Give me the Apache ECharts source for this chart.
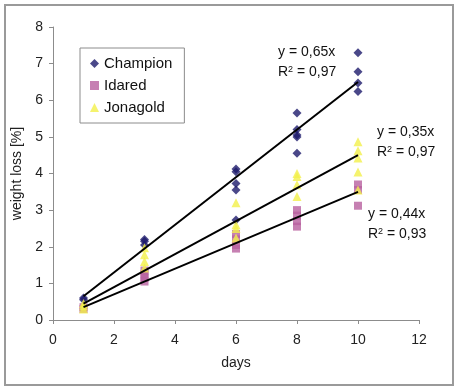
<!DOCTYPE html>
<html><head><meta charset="utf-8">
<script src="https://cdn.jsdelivr.net/npm/echarts@6/dist/echarts.min.js"></script>
<style>html,body{margin:0;padding:0;background:#fff}#c{width:460px;height:392px}</style>
</head><body><div id="c"></div>
<script>
const seriesNames = ['Champion', 'Idared', 'Jonagold'];
const championData = [[1,0.6],[1,0.55],[3,2.2],[3,2.15],[3,2.05],[6,4.12],[6,4.05],[6,3.73],[6,3.55],[6,2.73],[8,5.65],[8,5.2],[8,5.05],[8,5.0],[8,4.55],[10,7.3],[10,6.78],[10,6.47],[10,6.24]];
const idaredData = [[1,0.35],[1,0.3],[3,1.35],[3,1.25],[3,1.15],[3,1.05],[6,2.35],[6,2.2],[6,2.05],[6,1.95],[8,3.0],[8,2.85],[8,2.7],[8,2.55],[10,3.7],[10,3.55],[10,3.12]];
const jonagoldData = [[1,0.45],[1,0.38],[1,0.3],[3,1.97],[3,1.78],[3,1.6],[3,1.42],[6,3.2],[6,2.6],[6,2.5],[6,2.24],[8,4.0],[8,3.92],[8,3.69],[8,3.37],[10,4.87],[10,4.62],[10,4.42],[10,4.04],[10,3.55]];
const trendChampion = [[1,0.65],[10,6.5]];
const trendMiddle = [[1,0.45],[10,4.5]];
const trendBottom = [[1,0.35],[10,3.5]];
const eqLabels = [
  {lines:['y = 0,65x','0,97'], at:[278,53]},
  {lines:['y = 0,35x','0,97'], at:[377,133]},
  {lines:['y = 0,44x','0,93'], at:[368,215]}
];
const xTicks = {min:0, max:12, interval:2};
const yTicks = {min:0, max:8, interval:1};

const chart = echarts.init(document.getElementById('c'), null, {renderer:'canvas'});
const font = 'Liberation Sans, Arial, sans-serif';
const graphics = [{
  type:'rect', shape:{x:5,y:5,width:448,height:380},
  style:{fill:'none', stroke:'#9a9a9a', lineWidth:2}, silent:true
}];
eqLabels.forEach(e => {
  graphics.push({type:'text', left:e.at[0], top:e.at[1]-8,
    style:{text:e.lines[0], font:'14px '+font, fill:'#111'}});
  graphics.push({type:'text', left:e.at[0], top:e.at[1]+12,
    style:{text:'R{s|2} = '+e.lines[1], font:'14px '+font, fill:'#111',
      rich:{s:{fontSize:9, verticalAlign:'top', padding:[0,0,6,0], fill:'#111', fontFamily:font}}}});
});
const axisCommon = {
  axisLine:{show:true, lineStyle:{color:'#8c8c8c', width:1}},
  axisTick:{show:true, length:4, lineStyle:{color:'#8c8c8c'}},
  splitLine:{show:false},
  axisLabel:{color:'#222', fontSize:14, fontFamily:font},
  nameTextStyle:{color:'#222', fontSize:14, fontFamily:font}
};
chart.setOption({
  animation:false,
  backgroundColor:'#fff',
  textStyle:{fontFamily:font},
  grid:{left:53, top:27, right:41, bottom:72},
  legend:{
    data:seriesNames, orient:'vertical', left:80, top:48,
    padding:[8,12,8,10], itemGap:7, itemWidth:9, itemHeight:9,
    borderColor:'#8c8c8c', borderWidth:1, backgroundColor:'#fff',
    textStyle:{fontSize:15, color:'#111', fontFamily:font}
  },
  xAxis:Object.assign({type:'value', min:xTicks.min, max:xTicks.max, interval:xTicks.interval,
    name:'days', nameLocation:'middle', nameGap:36}, axisCommon,
    {axisLabel:Object.assign({}, axisCommon.axisLabel, {margin:13})}),
  yAxis:Object.assign({type:'value', min:yTicks.min, max:yTicks.max, interval:yTicks.interval,
    name:'weight loss [%]', nameLocation:'middle', nameGap:24}, axisCommon,
    {axisLabel:Object.assign({}, axisCommon.axisLabel, {margin:10})}),
  graphic:graphics,
  series:[
    {name:'Champion', type:'scatter', symbol:'diamond', symbolSize:9, data:championData,
      itemStyle:{color:'#1d1a6c'}, z:3},
    {name:'Idared', type:'scatter', symbol:'rect', symbolSize:[8,8], data:idaredData,
      itemStyle:{color:'#b8609f'}, z:2},
    {name:'Jonagold', type:'scatter', symbol:'triangle', symbolSize:9, data:jonagoldData,
      itemStyle:{color:'#f2f04a'}, z:3},
    {name:'trend1', type:'line', data:trendChampion, symbol:'none', lineStyle:{color:'#000', width:2}, z:4},
    {name:'trend2', type:'line', data:trendMiddle, symbol:'none', lineStyle:{color:'#000', width:2}, z:4},
    {name:'trend3', type:'line', data:trendBottom, symbol:'none', lineStyle:{color:'#000', width:2}, z:4}
  ]
});
</script></body></html>
